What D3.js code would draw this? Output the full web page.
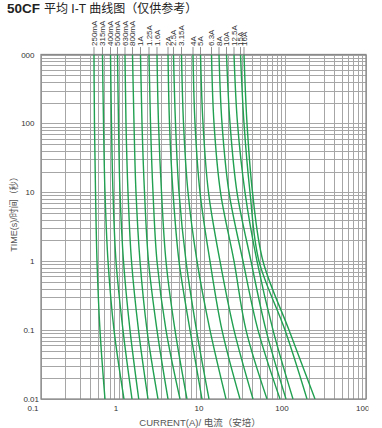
<!DOCTYPE html>
<html><head><meta charset="utf-8">
<script src="https://cdn.jsdelivr.net/npm/d3@7"></script>
<style>
html,body{margin:0;padding:0;background:#fff}
svg{display:block;font-family:"Liberation Sans",Arial,"Noto Sans CJK SC",sans-serif}
</style>
</head><body>
<svg id="chart" width="382" height="428"></svg>
<script>
// ---- data ----
const fuseRatings = ["250mA","315mA","400mA","500mA","630mA","800mA","1A","1.25A","1.6A","2A",
                     "2.5A","3.15A","4A","5A","6.3A","8A","10A","12.5A","15A","16A"];
// melting time points (s)
const times = [1000, 100, 10, 1, 0.1, 0.01];
// average melting current (A) of each rating at the times above
const meltCurrents = [
  [0.449, 0.455, 0.469, 0.489, 0.532, 0.613],
  [0.571, 0.588, 0.613, 0.668, 0.792, 1.051],
  [0.717, 0.737, 0.769, 0.838, 1.021, 1.318],
  [0.874, 0.899, 0.938, 1.036, 1.246, 1.596],
  [1.081, 1.112, 1.177, 1.300, 1.585, 2.075],
  [1.337, 1.395, 1.476, 1.654, 2.017, 2.754],
  [1.677, 1.750, 1.879, 2.104, 2.677, 3.657],
  [2.134, 2.227, 2.390, 2.677, 3.455, 5.138],
  [2.677, 2.794, 3.042, 3.455, 4.460, 6.266],
  [3.657, 3.815, 4.213, 4.994, 6.821, 9.583],
  [4.273, 4.523, 4.994, 6.091, 8.198, 11.69],
  [5.361, 5.674, 6.446, 8.318, 12.02, 18.92],
  [7.427, 7.861, 9.056, 12.02, 16.89, 28.13],
  [9.187, 9.859, 11.52, 15.96, 23.74, 40.67],
  [12.55, 13.47, 16.19, 23.74, 33.36, 60.45],
  [15.51, 16.89, 20.60, 30.64, 46.86, 87.39],
  [19.19, 21.20, 25.84, 38.42, 58.76, 103.6],
  [23.74, 26.21, 32.42, 45.55, 71.70, 126.3],
  [28.54, 31.51, 37.35, 48.20, 100.7, 187.8],
  [31.51, 34.31, 40.10, 53.99, 112.8, 235.7]
];
const xTickValues = [0.1, 1, 10, 100, 1000];
const xTickLabels = ["0.1", "1", "10", "100", "1000"];
const yTickValues = [0.01, 0.1, 1, 10, 100, 1000];
const yTickLabels = ["0.01", "0.1", "1", "10", "100", "1000"];
const titleBold = "50CF";
const titleRest = "平均 I-T 曲线图（仅供参考）";
const xTitle = "CURRENT(A)/ 电流（安培）";
const yTitle = "TIME(s)/时间（秒）";

// ---- drawing ----
const svg = d3.select("#chart");
const L = 41, R = 366, T = 54.5, B = 399;
const x = d3.scaleLog().domain([0.1, 1000]).range([L, R]);
const y = d3.scaleLog().domain([0.01, 1000]).range([B, T]);
const xLab = d3.scaleLog().domain([0.1, 1000]).range([33, 365]);

const defs = svg.append("defs");
defs.append("clipPath").attr("id", "plotClip").append("rect")
  .attr("x", L).attr("y", T).attr("width", R - L).attr("height", B - T);
defs.append("clipPath").attr("id", "yLabClip").append("rect")
  .attr("x", 21).attr("y", 0).attr("width", 30).attr("height", 428);
defs.append("clipPath").attr("id", "xLabClip").append("rect")
  .attr("x", 0).attr("y", 0).attr("width", 368.5).attr("height", 428);

// grid
const grid = svg.append("g").attr("shape-rendering", "crispEdges");
grid.selectAll("line.vx").data(x.ticks()).join("line")
  .attr("x1", d => Math.round(x(d)) + 0.5).attr("x2", d => Math.round(x(d)) + 0.5)
  .attr("y1", T).attr("y2", B)
  .attr("stroke", "#a6a6a6").attr("stroke-width", 1);
grid.selectAll("line.hy").data(y.ticks()).join("line")
  .attr("y1", d => Math.round(y(d)) + 0.5).attr("y2", d => Math.round(y(d)) + 0.5)
  .attr("x1", L).attr("x2", R)
  .attr("stroke", "#a6a6a6").attr("stroke-width", 1);
svg.append("rect").attr("x", L).attr("y", T).attr("width", R - L).attr("height", B - T)
  .attr("fill", "none").attr("stroke", "#8a8a8a").attr("stroke-width", 1.3);

// curves
const line = d3.line().x(d => x(d[0])).y(d => y(d[1])).curve(d3.curveMonotoneY);
svg.append("g").attr("clip-path", "url(#plotClip)")
  .selectAll("path").data(meltCurrents).join("path")
  .attr("d", row => line(row.map((c, i) => [c, times[i]])))
  .attr("fill", "none").attr("stroke", "#20a050").attr("stroke-width", 1.4);

// curve labels with leaders
const lab = svg.append("g");
fuseRatings.forEach((name, i) => {
  const cx = x(meltCurrents[i][0]);
  lab.append("line").attr("x1", cx).attr("x2", cx).attr("y1", 47).attr("y2", T)
    .attr("stroke", "#777").attr("stroke-width", 0.8);
  lab.append("text").attr("transform", `translate(${cx + 2.8},46) rotate(-90)`)
    .attr("font-size", 8).attr("fill", "#333").text(name);
});

// y tick labels
const yl = svg.append("g").attr("clip-path", "url(#yLabClip)");
yTickValues.forEach((v, i) => {
  yl.append("text").attr("x", i === 0 ? 39 : 34.5).attr("y", y(v) + 3)
    .attr("text-anchor", "end").attr("font-size", 8).attr("fill", "#333").text(yTickLabels[i]);
});
// x tick labels
const xl = svg.append("g").attr("clip-path", "url(#xLabClip)");
xTickValues.forEach((v, i) => {
  xl.append("text").attr("x", xLab(v)).attr("y", 411)
    .attr("text-anchor", "middle").attr("font-size", 8).attr("fill", "#333").text(xTickLabels[i]);
});

// titles
const t = svg.append("text").attr("x", 7).attr("y", 12.5).attr("fill", "#222");
t.append("tspan").attr("font-size", 13.5).attr("font-weight", "bold").text(titleBold);
t.append("tspan").attr("dx", 4).attr("font-size", 12).text(titleRest);

svg.append("text").attr("x", 200).attr("y", 426).attr("text-anchor", "middle")
  .attr("font-size", 9.5).attr("fill", "#555").text(xTitle);
svg.append("text").attr("transform", "translate(17,212) rotate(-90)").attr("text-anchor", "middle")
  .attr("font-size", 9).attr("fill", "#555").text(yTitle);
</script>
</body></html>
